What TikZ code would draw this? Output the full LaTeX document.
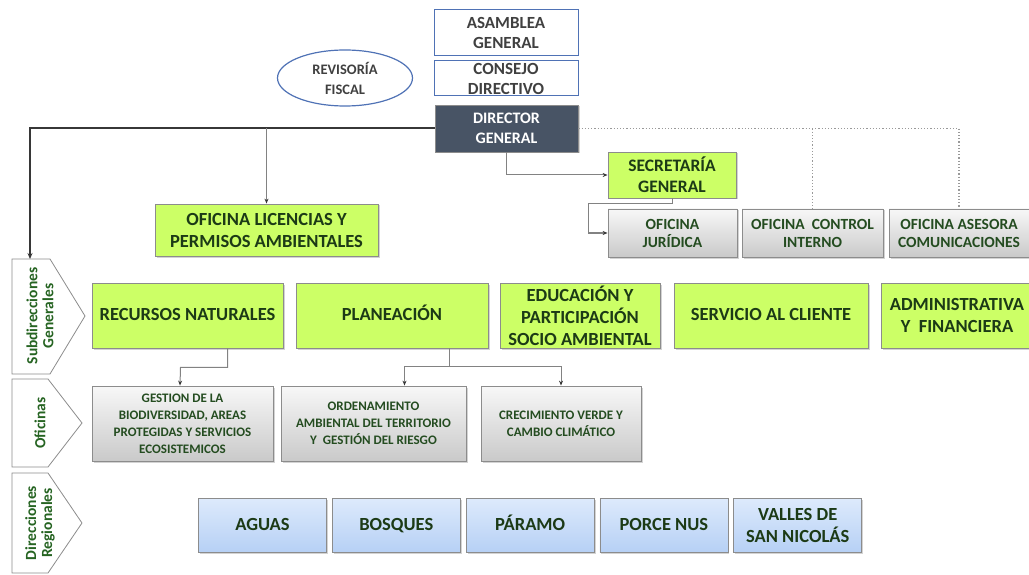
\documentclass[tikz,border=0pt]{standalone}
\usepackage{fontspec}
\setmainfont{Carlito}
\usepackage{tikz}
\usetikzlibrary{shapes.geometric, arrows.meta, positioning, calc, shadows}
\definecolor{limegreen}{RGB}{204, 255, 102}
\definecolor{darkgreen}{RGB}{28, 58, 22}
\definecolor{officegreen}{RGB}{36, 76, 32}
\definecolor{labelgreen}{RGB}{38, 100, 34}
\definecolor{directorslate}{RGB}{72, 84, 101}
\definecolor{topblue}{RGB}{79, 114, 181}
\definecolor{textgray}{RGB}{64, 64, 64}
\definecolor{boxgray}{RGB}{140, 140, 140}
\definecolor{linegray}{RGB}{130, 130, 130}
\definecolor{darkline}{RGB}{55, 55, 55}
\definecolor{bluetop}{RGB}{221, 234, 252}
\definecolor{bluebot}{RGB}{182, 208, 245}
\tikzset{
  >=Stealth,
  box/.style={draw=boxgray, line width=0.8pt, align=center, inner sep=1pt,
    drop shadow={shadow xshift=1.5pt, shadow yshift=-1.5pt, opacity=0.35}},
  oneline/.style={text height=13pt, text depth=4pt},
  greenbox/.style={box, fill=limegreen, text=darkgreen, font=\bfseries\fontsize{18.5}{22}\selectfont},
  graybox/.style={box, top color=gray!6, bottom color=gray!42, text=officegreen, font=\bfseries\fontsize{13}{17}\selectfont},
  bluebox/.style={box, top color=bluetop, bottom color=bluebot, text=darkgreen, minimum width=128pt, minimum height=54pt, font=\bfseries\fontsize{18.5}{22}\selectfont},
  topbox/.style={draw=topblue, line width=1pt, fill=white, text=textgray, align=center, inner sep=1pt, minimum width=144pt, font=\bfseries\fontsize{17}{20}\selectfont},
  conn/.style={draw=linegray, line width=1pt, -{Stealth[length=5pt, width=4pt, color=darkline]}},
  mainline/.style={draw=darkline, line width=2pt, -{Stealth[length=6pt, width=5pt]}},
  dotline/.style={draw=gray!80, dotted, line width=1.2pt},
  sidelabel/.style={draw=boxgray, fill=white, line width=0.8pt},
  sidetext/.style={rotate=90, text=labelgreen, align=center, font=\bfseries\fontsize{15.5}{16}\selectfont}
}
\begin{document}
\begin{tikzpicture}[x=1pt, y=-1pt]
    \useasboundingbox (0,0) rectangle (1029,575);
    % direccion
    \node (asamblea) [topbox, minimum height=46pt] at (506,33) {ASAMBLEA\\GENERAL};
    \node (consejo) [topbox, minimum height=35pt] at (506,78.5) {CONSEJO\\DIRECTIVO};
    \node (director) [box, fill=directorslate, text=white, minimum width=143pt, minimum height=47pt, font=\bfseries\fontsize{16}{20}\selectfont] at (506.5,128.5) {DIRECTOR\\GENERAL};
    \node (revisoria) [ellipse, draw=topblue, line width=1.2pt, text=textgray, align=center, inner sep=0pt, minimum width=135pt, minimum height=56pt, font=\bfseries\fontsize{14.5}{20}\selectfont] at (345,78) {REVISORÍA\\FISCAL};
    \node (licencias) [greenbox, minimum width=223pt, minimum height=52pt] at (266.5,230) {OFICINA LICENCIAS Y\\PERMISOS AMBIENTALES};
    \node (secretaria) [greenbox, minimum width=128pt, minimum height=46pt, font=\bfseries\fontsize{17.5}{21}\selectfont] at (672,175) {SECRETARÍA\\GENERAL};
    \node (juridica) [graybox, minimum width=129pt, minimum height=48pt, font=\bfseries\fontsize{15.5}{18}\selectfont] at (672.5,233) {OFICINA\\JURÍDICA};
    \node (control) [graybox, minimum width=141pt, minimum height=48pt, font=\bfseries\fontsize{15.5}{18}\selectfont] at (812.5,233) {OFICINA \ CONTROL\\INTERNO};
    \node (asesora) [graybox, minimum width=140pt, minimum height=48pt, font=\bfseries\fontsize{15.5}{18}\selectfont] at (959,233) {OFICINA ASESORA\\COMUNICACIONES};
    % subdirecciones
    \node (recursos) [greenbox, oneline, minimum width=191pt, minimum height=65pt] at (187.5,315.5) {RECURSOS NATURALES};
    \node (planeacion) [greenbox, oneline, minimum width=192pt, minimum height=65pt] at (392,315.5) {PLANEACIÓN};
    \node (educacion) [greenbox, minimum width=160pt, minimum height=65pt] at (580,315.5) {EDUCACIÓN Y\\PARTICIPACIÓN\\SOCIO AMBIENTAL};
    \node (servicio) [greenbox, oneline, minimum width=194pt, minimum height=65pt] at (771,315.5) {SERVICIO AL CLIENTE};
    \node (administrativa) [greenbox, minimum width=152pt, minimum height=65pt] at (957,315.5) {ADMINISTRATIVA\\Y \ FINANCIERA};
    % oficinas
    \node (gestion) [graybox, minimum width=181pt, minimum height=75pt] at (182.5,423.5) {GESTION DE LA\\BIODIVERSIDAD, AREAS\\PROTEGIDAS Y SERVICIOS\\ECOSISTEMICOS};
    \node (ordenamiento) [graybox, minimum width=185pt, minimum height=75pt] at (373.5,423.5) {ORDENAMIENTO\\AMBIENTAL DEL TERRITORIO\\Y \ GESTIÓN DEL RIESGO};
    \node (crecimiento) [graybox, minimum width=160pt, minimum height=75pt] at (561,423.5) {CRECIMIENTO VERDE Y\\CAMBIO CLIMÁTICO};
    % direcciones regionales
    \node (aguas) [bluebox, oneline] at (262.5,525.5) {AGUAS};
    \node (bosques) [bluebox, oneline, right=5pt of aguas] {BOSQUES};
    \node (paramo) [bluebox, oneline, right=5pt of bosques] {PÁRAMO};
    \node (porce) [bluebox, oneline, right=5pt of paramo] {PORCE NUS};
    \node (valles) [bluebox, right=5pt of porce] {VALLES DE\\SAN NICOLÁS};
    % etiquetas laterales
    \draw[sidelabel] (12,259) -- (50,259) -- (85,316) -- (50,374) -- (12,374) -- cycle;
    \draw[sidelabel] (12,379) -- (48,379) -- (82,423) -- (48,467) -- (12,467) -- cycle;
    \draw[sidelabel] (12,473) -- (48,473) -- (82,523) -- (48,573) -- (12,573) -- cycle;
    \coordinate (subtop) at (30,259);
    \node (lblsub) [sidetext] at (40,316) {Subdirecciones\\Generales};
    \node (lblofi) [sidetext] at (40,423) {Oficinas};
    \node (lbldir) [sidetext] at (40,523) {Direcciones\\Regionales};
    % conectores
    \draw[mainline] (director.west) -| (subtop);
    \draw[conn] (licencias.north |- director.west) -- (licencias.north);
    \draw[conn] (director.south) |- (secretaria.west);
    \draw[conn] (secretaria.south) |- ++(-84,5) |- (juridica.west);
    \draw[dotline] (director.east) -| (asesora.north);
    \draw[dotline] (control.north |- director.east) -- (control.north);
    \draw[conn] ([xshift=40pt]recursos.south) |- ++(-47,19) -- (gestion.north -| 180,0);
    \draw[draw=linegray, line width=1pt] ([xshift=57pt]planeacion.south) -- ++(0,18) coordinate (pjoin);
    \draw[conn] (pjoin) -| ([xshift=31pt]ordenamiento.north);
    \draw[conn] (pjoin) -| (crecimiento.north);
\end{tikzpicture}
\end{document}
